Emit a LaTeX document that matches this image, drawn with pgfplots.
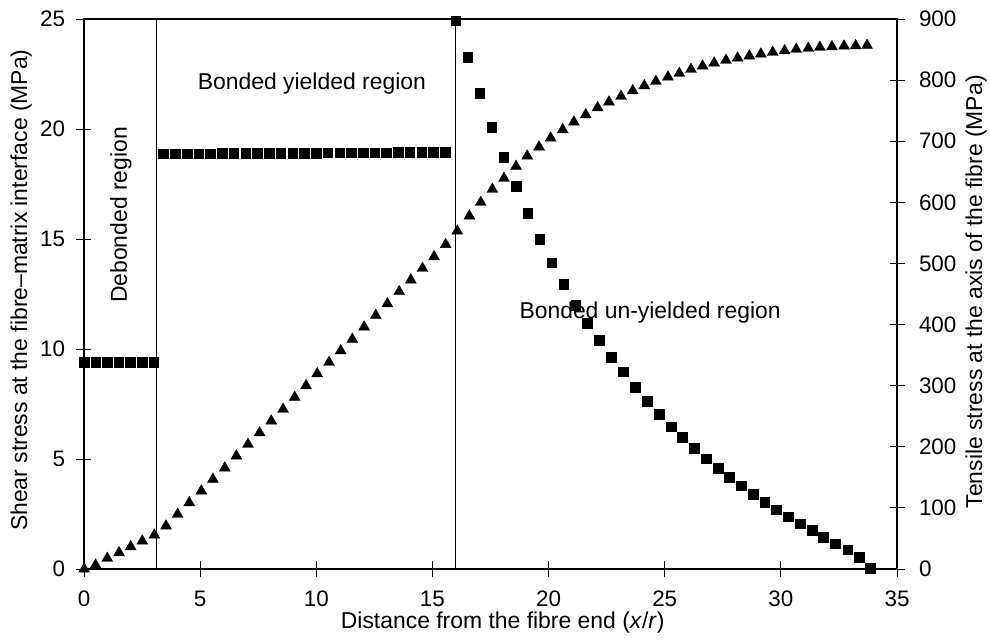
\documentclass[border=0pt]{standalone}
\usepackage{fontspec}
\setmainfont{Liberation Sans}
\usepackage{pgfplots}
\pgfplotsset{compat=1.18}
\begin{document}
\begin{tikzpicture}
\pgfplotsset{
  base/.style={
    scale only axis, width=813bp, height=550bp,
    xmin=0, xmax=35, clip=false,
    tick align=center, major tick length=15bp,
    every tick/.style={black, line width=0.9bp},
    axis line style={line width=1.1bp},
    /pgf/number format/assume math mode=true,
    tick label style={font=\fontsize{22.5}{26}\selectfont},
    label style={font=\fontsize{23}{27}\selectfont},
  }
}
\begin{axis}[base, name=main,
  ymin=0, ymax=25,
  xtick={0,5,...,35}, ytick={0,5,...,25},
  xtick pos=left, ytick pos=left,
  xticklabel style={yshift=-11bp},
  yticklabel style={xshift=-8bp},
  xlabel={Distance from the fibre end (\textit{x}/\textit{r})},
  ylabel={Shear stress at the fibre–matrix interface (MPa)},
  xlabel style={at={(axis description cs:0.515,0)}, anchor=base, yshift=-59bp},
  ylabel style={at={(axis description cs:-0.0701,0.507)}, anchor=base},
]
\addplot[black, line width=1bp, mark=none] coordinates {(0,0) (0,25)};
\addplot[black, line width=0.9bp, mark=none] coordinates {(3.1,0) (3.1,25)};
\addplot[black, line width=0.9bp, mark=none] coordinates {(16,0) (16,25)};
% debonded region
\addplot[only marks, mark=square*, mark size=4.8bp, black] coordinates {
(0,9.4) (0.5,9.4) (1,9.4) (1.5,9.4) (2,9.4) (2.5,9.4) (3,9.4)};
% bonded yielded region
\addplot[only marks, mark=square*, mark size=4.8bp, black] coordinates {
(3.42,18.87) (3.93,18.87) (4.43,18.88) (4.94,18.88) (5.44,18.88)
(5.95,18.89) (6.45,18.89) (6.96,18.89) (7.46,18.90) (7.97,18.90)
(8.47,18.90) (8.98,18.91) (9.48,18.91) (9.99,18.91) (10.49,18.92)
(11.00,18.92) (11.50,18.92) (12.01,18.93) (12.51,18.93) (13.02,18.93)
(13.52,18.94) (14.03,18.94) (14.53,18.94) (15.04,18.95) (15.54,18.95)};
% bonded un-yielded region
\addplot[only marks, mark=square*, mark size=4.8bp, black] coordinates {
(16.01,24.92) (16.52,23.26) (17.03,21.62) (17.55,20.09) (18.07,18.71)
(18.60,17.39) (19.10,16.17) (19.62,15.00) (20.13,13.92) (20.65,12.94)
(21.17,12.00) (21.67,11.17) (22.19,10.41) (22.70,9.64) (23.22,8.96)
(23.73,8.26) (24.25,7.64) (24.75,7.03) (25.27,6.47) (25.76,5.99)
(26.27,5.49) (26.78,5.01) (27.29,4.59) (27.78,4.17) (28.28,3.79)
(28.80,3.41) (29.30,3.05) (29.80,2.70) (30.32,2.38) (30.84,2.06)
(31.34,1.76) (31.83,1.45) (32.34,1.15) (32.88,0.88) (33.36,0.55)
(33.84,0.03)};
\node[font=\fontsize{23}{27}\selectfont] at (axis cs:9.81,22.05) {Bonded yielded region};
\node[font=\fontsize{23}{27}\selectfont, rotate=90] at (axis cs:1.59,16.09) {Debonded region};
\node[font=\fontsize{23}{27}\selectfont] at (axis cs:24.37,11.64) {Bonded un-yielded region};
\end{axis}
\begin{axis}[base,
  ymin=0, ymax=900,
  axis x line=none, axis y line*=right,
  ytick={0,100,...,900},
  yticklabel style={xshift=11bp},
  ylabel={Tensile stress at the axis of the fibre (MPa)},
  ylabel style={at={(axis description cs:1.1046,0.504)}, anchor=base},
]
\addplot[only marks, mark=triangle*, mark size=6.3bp, black] coordinates {
(0.01,0) (0.50,6.5) (1.00,17.5) (1.51,26.7) (2.01,36.5) (2.51,45.8)
(3.03,55.6) (3.53,70.4) (4.03,89.5) (4.53,108.5) (5.05,127.6) (5.55,146.8)
(6.06,165.3) (6.56,184.9) (7.06,204) (7.56,223) (8.06,242.2) (8.57,261.3)
(9.07,281) (9.56,300) (10.04,319.6) (10.55,338.2) (11.05,357.2) (11.55,376)
(12.06,396) (12.56,415) (13.06,434) (13.57,454) (14.07,473) (14.57,492)
(15.07,511) (15.57,531) (16.07,553) (16.59,577.6) (17.08,600) (17.58,621.3)
(18.08,639.3) (18.60,659) (19.08,675.8) (19.59,690.6) (20.09,705.3) (20.61,718.9)
(21.09,731.5) (21.60,743.4) (22.11,754.9) (22.60,764.2) (23.12,773.5) (23.62,782.7)
(24.12,790.9) (24.62,798) (25.14,805.1) (25.63,811.1) (26.13,817.7) (26.63,823.1)
(27.13,828) (27.64,832.4) (28.14,836.2) (28.64,839.5) (29.14,842.7) (29.65,845.5)
(30.16,848.1) (30.66,850.4) (31.18,852) (31.68,853.7) (32.20,854.7) (32.72,855.8)
(33.22,856.3) (33.71,857)};
\end{axis}
\pgfresetboundingbox
\path[use as bounding box] ([shift={(-84bp,-71bp)}]main.south west) rectangle ([shift={(92bp,19bp)}]main.north east);
\end{tikzpicture}
\end{document}
